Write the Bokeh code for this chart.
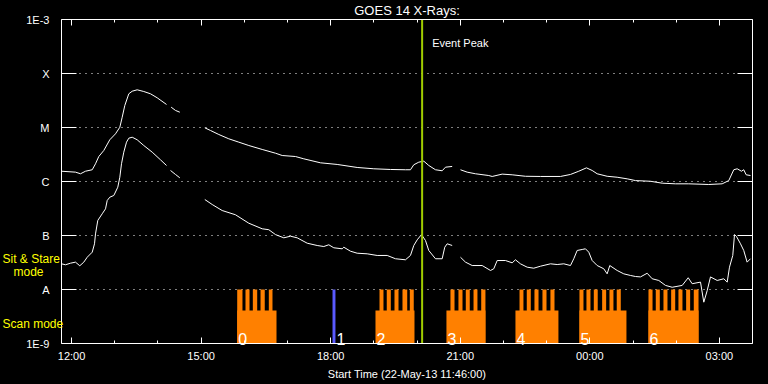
import math
from bokeh.plotting import figure
from bokeh.models import Range1d, FixedTicker, LinearAxis, LogAxis, Label, Span
from bokeh.embed import file_html
from bokeh.resources import INLINE
from bokeh.core.properties import value

nan = float("nan")

# ---- data (time in decimal hours of 22-May-13, >24 = next day) ----
t_start, t_end = 11.7667, 27.7667
flux_min, flux_max = 1e-9, 1e-3

long_t = [11.767, 12.091, 12.207, 12.322, 12.478, 12.554, 12.630, 12.746, 12.885, 13.017,
          13.117, 13.172, 13.232, 13.325, 13.404, 13.519, 13.672, 13.827, 13.982, 14.198,
          14.250, 14.306, 14.406, 14.506, 14.800, 15.085, 15.217, 15.409, 15.640, 15.872,
          16.104, 16.414, 16.722, 16.877, 17.185, 17.377, 17.763, 18.150, 18.613, 18.998,
          19.384, 19.731, 19.847, 19.924, 20.040, 20.156, 20.271, 20.426, 20.581, 20.658,
          20.813, 20.910, 21.005, 21.160, 21.352, 21.660, 21.739, 21.971, 22.202, 22.510,
          22.857, 23.320, 23.552, 23.744, 23.922, 24.054, 24.170, 24.401, 24.633, 24.865,
          25.057, 25.404, 25.675, 25.983, 26.291, 26.754, 27.064, 27.217, 27.333, 27.412,
          27.511, 27.564, 27.620, 27.720]
long_flux = [1.55e-6, 1.49e-6, 1.39e-6, 1.55e-6, 1.65e-6, 2.13e-6, 2.90e-6, 3.75e-6, 5.92e-6, 7.64e-6,
             1.01e-5, 1.55e-5, 2.55e-5, 4.21e-5, 4.70e-5, 4.99e-5, 4.64e-5, 4.21e-5, 3.55e-5, 2.67e-5,
             nan, 2.38e-5, 2.07e-5, 1.92e-5, nan, 9.87e-6, 8.80e-6, 7.42e-6, 6.18e-6, 5.35e-6,
             4.64e-6, 3.92e-6, 3.34e-6, 3.03e-6, 2.90e-6, 2.63e-6, 2.22e-6, 2.07e-6, 1.82e-6, 1.72e-6,
             1.67e-6, 1.65e-6, 1.65e-6, 2.04e-6, 2.28e-6, 2.38e-6, 1.98e-6, 1.65e-6, 1.58e-6, 1.84e-6,
             1.90e-6, nan, 1.65e-6, 1.49e-6, 1.39e-6, 1.29e-6, 1.24e-6, 1.37e-6, 1.33e-6, 1.25e-6,
             1.24e-6, 1.24e-6, 1.35e-6, 1.55e-6, 1.79e-6, 1.60e-6, 1.39e-6, 1.25e-6, 1.20e-6, 1.12e-6,
             1.04e-6, 1.01e-6, 9.31e-7, 9.06e-7, 9.06e-7, 8.80e-7, 9.06e-7, 1.04e-6, 1.65e-6, 1.72e-6,
             1.55e-6, 1.65e-6, 1.33e-6, 1.29e-6]

short_t = [11.767, 11.859, 11.975, 12.091, 12.190, 12.283, 12.362, 12.478, 12.531, 12.554,
           12.607, 12.709, 12.786, 12.825, 12.885, 12.978, 13.070, 13.117, 13.156, 13.209,
           13.272, 13.325, 13.404, 13.519, 13.672, 13.867, 14.059, 14.198, 14.250, 14.291,
           14.406, 14.506, 14.800, 15.085, 15.256, 15.487, 15.795, 16.103, 16.414, 16.566,
           16.722, 16.914, 17.069, 17.224, 17.456, 17.687, 17.840, 17.956, 18.072, 18.266,
           18.303, 18.458, 18.613, 18.845, 19.076, 19.308, 19.500, 19.731, 19.847, 19.924,
           20.003, 20.102, 20.195, 20.271, 20.426, 20.581, 20.641, 20.697, 20.813, 20.910,
           21.005, 21.121, 21.276, 21.507, 21.700, 21.776, 21.855, 22.047, 22.202, 22.278,
           22.394, 22.549, 22.702, 22.857, 23.089, 23.244, 23.397, 23.552, 23.628, 23.707,
           23.823, 23.899, 23.976, 24.054, 24.170, 24.323, 24.401, 24.462, 24.633, 24.786,
           24.941, 25.057, 25.173, 25.328, 25.444, 25.597, 25.752, 25.907, 26.139, 26.278,
           26.370, 26.563, 26.639, 26.718, 26.794, 26.949, 27.102, 27.181, 27.234, 27.310,
           27.350, 27.396, 27.489, 27.564, 27.642, 27.720]
short_flux = [2.99e-8, 2.87e-8, 3.07e-8, 3.21e-8, 2.75e-8, 3.21e-8, 3.96e-8, 4.91e-8, 7.02e-8, 1.07e-7,
              1.90e-7, 2.52e-7, 3.12e-7, 4.45e-7, 5.12e-7, 5.51e-7, 7.84e-7, 1.20e-6, 2.13e-6, 3.49e-6,
              5.35e-6, 6.34e-6, 6.61e-6, 5.92e-6, 4.64e-6, 3.49e-6, 2.52e-6, 1.98e-6, nan, 1.60e-6,
              1.35e-6, 1.17e-6, nan, 4.64e-7, 3.75e-7, 2.90e-7, 2.42e-7, 1.69e-7, 1.33e-7, 1.28e-7,
              1.04e-7, 9.06e-8, 9.71e-8, 9.06e-8, 7.20e-8, 6.53e-8, 6.25e-8, 6.73e-8, 5.92e-8, 5.67e-8,
              6.07e-8, 5.12e-8, 4.70e-8, 4.58e-8, 4.27e-8, 4.27e-8, 3.71e-8, 3.55e-8, 4.27e-8, 6.53e-8,
              8.32e-8, 1.04e-7, 8.07e-8, 5.28e-8, 3.71e-8, 3.71e-8, 6.07e-8, 7.02e-8, 6.53e-8, nan,
              3.96e-8, 3.21e-8, 2.78e-8, 2.78e-8, 2.25e-8, 2.42e-8, 3.44e-8, 3.44e-8, 3.12e-8, 3.55e-8,
              2.99e-8, 2.59e-8, 2.48e-8, 2.70e-8, 2.99e-8, 2.90e-8, 2.99e-8, 2.78e-8, 3.71e-8, 5.28e-8,
              5.51e-8, 5.67e-8, 4.91e-8, 3.44e-8, 2.78e-8, 2.42e-8, 1.95e-8, 2.78e-8, 2.25e-8, 1.95e-8,
              1.82e-8, 1.74e-8, 1.71e-8, 2.00e-8, 1.58e-8, 1.47e-8, 1.19e-8, 1.10e-8, 1.19e-8, 1.65e-8,
              1.28e-8, 1.37e-8, 5.82e-9, 9.58e-9, 1.71e-8, 1.47e-8, 1.58e-8, 1.37e-8, 2.59e-8, 4.27e-8,
              1.04e-7, 9.58e-8, 7.02e-8, 5.28e-8, 3.21e-8, 3.71e-8]

x_ticks = [12, 15, 18, 21, 24, 27]
x_tick_labels = ["12:00", "15:00", "18:00", "21:00", "00:00", "03:00"]
x_minor_ticks = list(range(12, 28))
y_ticks = [1e-9, 1e-8, 1e-7, 1e-6, 1e-5, 1e-4, 1e-3]
y_tick_labels = ["1E-9", "A", "B", "C", "M", "X", "1E-3"]
class_levels = [1e-8, 1e-7, 1e-6, 1e-5, 1e-4]

# scan mode blocks
scan_ids = ["0", "2", "3", "4", "5", "6"]
scan_start = [15.835, 19.037, 20.680, 22.278, 23.760, 25.358]
scan_end = [16.745, 19.940, 21.583, 23.273, 24.848, 26.517]
raster_start = [15.835, 16.027, 16.197, 16.375, 16.567,
                19.130, 19.298, 19.477, 19.662, 19.832,
                20.773, 20.958, 21.128, 21.307, 21.485,
                22.372, 22.540, 22.718, 22.903, 23.088,
                23.760, 23.922, 24.092, 24.285, 24.455, 24.623,
                25.358, 25.527, 25.705, 25.883, 26.052, 26.230, 26.407]
raster_end = [15.957, 16.120, 16.298, 16.473, 16.652,
              19.222, 19.392, 19.570, 19.772, 19.923,
              20.867, 21.052, 21.220, 21.398, 21.583,
              22.463, 22.633, 22.812, 22.997, 23.182,
              23.853, 24.015, 24.183, 24.378, 24.547, 24.717,
              25.452, 25.620, 25.798, 25.977, 26.145, 26.323, 26.517]
# sit & stare block
stare_ids = ["1"]
stare_start = [18.042]
stare_end = [18.110]

event_peak = 20.117

# ---- style / layout ----
FONT = "Liberation Sans"
WHITE = "#ffffff"
ORANGE = "#ff8000"
BLUE = "#5a5aff"
GREEN = "#a0cc00"
YELLOW = "#ffff00"
scan_low_top = 4.1e-9
mode_top = 1e-8

W, H = 768, 384
M_LEFT, M_RIGHT, M_TOP, M_BOTTOM = 61, 16, 19, 41
px_per_hour = (W - M_LEFT - M_RIGHT) / (t_end - t_start)
px_per_decade = (H - M_TOP - M_BOTTOM) / (math.log10(flux_max) - math.log10(flux_min))
x_lo = t_start - M_LEFT / px_per_hour
x_hi = t_end + M_RIGHT / px_per_hour
y_lo = 10 ** (math.log10(flux_min) - M_BOTTOM / px_per_decade)
y_hi = 10 ** (math.log10(flux_max) + M_TOP / px_per_decade)

p = figure(width=W, height=H, x_range=Range1d(x_lo, x_hi), y_range=Range1d(y_lo, y_hi),
           y_axis_type="log", output_backend="svg", toolbar_location=None,
           background_fill_color="black", border_fill_color="black",
           min_border=0)
p.outline_line_color = None

xt = FixedTicker(ticks=x_ticks, minor_ticks=x_minor_ticks)
yt = FixedTicker(ticks=y_ticks, minor_ticks=[])

def style_x(ax, loc, labels=True):
    ax.ticker = xt
    ax.fixed_location = loc
    ax.bounds = (t_start, t_end)
    ax.axis_line_color = WHITE
    ax.major_tick_line_color = WHITE
    ax.minor_tick_line_color = WHITE
    ax.major_tick_in = 6
    ax.major_tick_out = 0
    ax.minor_tick_in = 3
    ax.minor_tick_out = 0
    ax.major_label_text_color = WHITE
    ax.major_label_text_font = FONT
    if labels:
        ax.major_label_overrides = dict(zip(x_ticks, x_tick_labels))
        ax.major_label_text_font_size = "11px"
        ax.major_label_standoff = 6
    else:
        ax.major_label_overrides = {t: "" for t in x_ticks}
        ax.major_label_text_font_size = "1px"
        ax.major_label_standoff = 0

def style_y(ax, loc, labels=True):
    ax.ticker = yt
    ax.fixed_location = loc
    ax.bounds = (flux_min, flux_max)
    ax.axis_line_color = WHITE
    ax.major_tick_line_color = WHITE
    ax.minor_tick_line_color = None
    ax.major_tick_in = 15
    ax.major_tick_out = 0
    ax.major_label_text_color = WHITE
    ax.major_label_text_font = FONT
    if labels:
        ax.major_label_overrides = dict(zip(y_ticks, y_tick_labels))
        ax.major_label_text_font_size = "11px"
        ax.major_label_standoff = 12
    else:
        ax.major_label_overrides = {t: "" for t in y_ticks}
        ax.major_label_text_font_size = "1px"
        ax.major_label_standoff = 0

style_x(p.xaxis[0], flux_min)
p.xaxis[0].axis_label = "Start Time (22-May-13 11:46:00)"
p.xaxis[0].axis_label_text_color = WHITE
p.xaxis[0].axis_label_text_font = FONT
p.xaxis[0].axis_label_text_font_size = "11px"
p.xaxis[0].axis_label_text_font_style = "normal"
p.xaxis[0].axis_label_standoff = 3
style_y(p.yaxis[0], t_start)

top_ax = LinearAxis()
style_x(top_ax, flux_max, labels=False)
p.add_layout(top_ax, "above")
right_ax = LogAxis()
style_y(right_ax, t_end, labels=False)
p.add_layout(right_ax, "right")

p.xgrid.visible = False
p.ygrid.visible = False

# dotted flare-class level lines across the data area
n_lv = len(class_levels)
p.segment(x0=[t_start] * n_lv, x1=[t_end] * n_lv, y0=class_levels, y1=class_levels,
          line_color=WHITE, line_width=1, line_dash="1 5")

# scan mode bars
p.quad(left=scan_start, right=scan_end, bottom=flux_min, top=scan_low_top,
       fill_color=ORANGE, line_color=None)
p.quad(left=raster_start, right=raster_end, bottom=flux_min, top=mode_top,
       fill_color=ORANGE, line_color=None)
p.quad(left=stare_start, right=stare_end, bottom=flux_min, top=mode_top,
       fill_color=BLUE, line_color=None)
p.text(x=scan_start + stare_end, y=[1.19e-9] * (len(scan_start) + len(stare_end)),
       text=scan_ids + stare_ids, x_offset=1, text_color=WHITE,
       text_font=value(FONT), text_font_size="16px", text_baseline="alphabetic")

# GOES curves
p.line(long_t, long_flux, line_color=WHITE, line_width=1)
p.line(short_t, short_flux, line_color=WHITE, line_width=1)

# event peak
p.segment(x0=[event_peak], x1=[event_peak], y0=[flux_min], y1=[flux_max],
          line_color=GREEN, line_width=2)
p.add_layout(Label(x=event_peak, y=3.6e-4, x_offset=10, text="Event Peak", text_color=WHITE,
                   text_font=FONT, text_font_size="11px", text_baseline="middle"))

# title
p.add_layout(Label(x=(t_start + t_end) / 2, y=1.47e-3, text="GOES 14 X-Rays:", text_color=WHITE,
                   text_font=FONT, text_font_size="13px", text_align="center",
                   text_baseline="middle"))

# mode labels in the left margin
for txt, dx, yv in [("Sit & Stare", -59, 3.75e-8), ("mode", -48, 2.15e-8), ("Scan mode", -59, 2.25e-9)]:
    p.add_layout(Label(x=t_start, x_offset=dx, y=yv, text=txt, text_color=YELLOW,
                       text_font=FONT, text_font_size="12px", text_baseline="middle"))

html = file_html(p, INLINE)
html = html.replace("</head>", "<style>html,body{background:#000000;}</style></head>", 1)
open("out.html", "w").write(html)
